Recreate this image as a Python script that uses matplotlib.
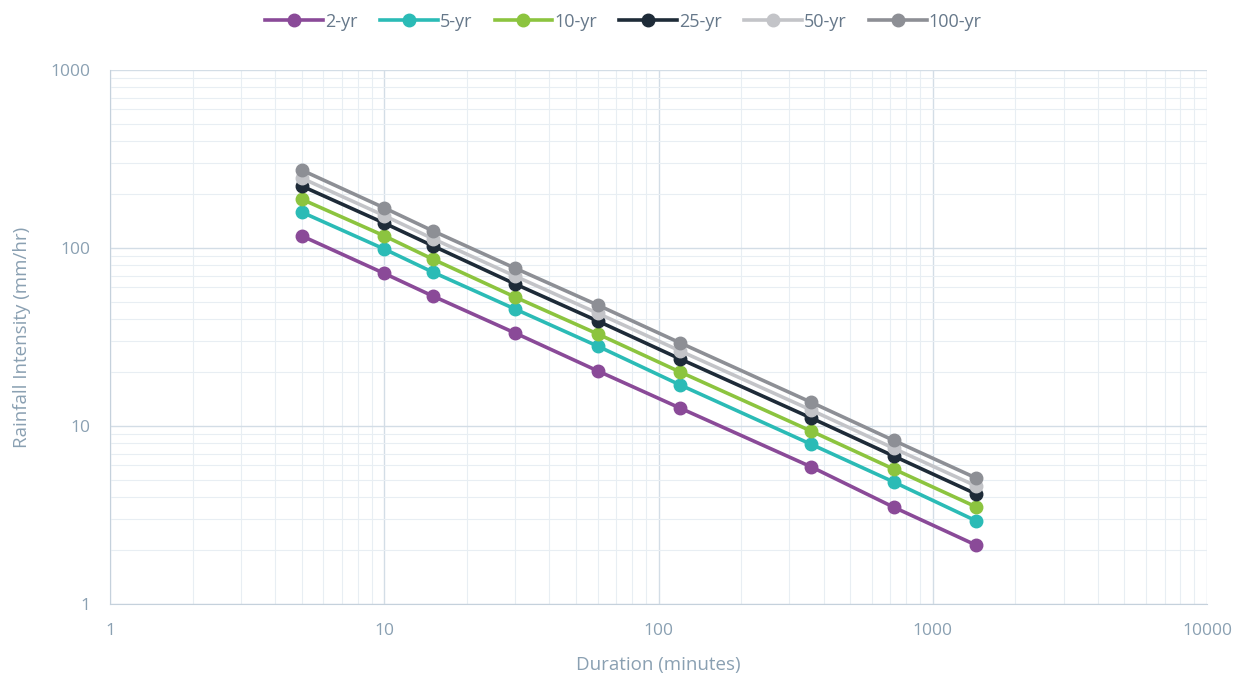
import matplotlib.pyplot as plt
import numpy as np
from matplotlib.ticker import LogLocator, NullFormatter

plt.rcParams['font.family'] = ['Open Sans', 'DejaVu Sans']

duration = [5, 10, 15, 30, 60, 120, 360, 720, 1440]
i_2yr = [117, 72, 53.8, 33.3, 20.4, 12.6, 5.9, 3.5, 2.14]
i_5yr = [159, 98.7, 73.3, 45.4, 28.1, 17.0, 7.9, 4.85, 2.93]
i_10yr = [188, 117, 86.7, 53, 32.9, 20.1, 9.37, 5.73, 3.51]
i_25yr = [223, 138, 103, 62.8, 38.9, 23.8, 11.1, 6.78, 4.15]
i_50yr = [247, 152, 113, 69.5, 43, 26.4, 12.3, 7.5, 4.6]
i_100yr = [274, 168, 125, 77, 47.8, 29.3, 13.6, 8.3, 5.1]

series = [('2-yr', i_2yr, '#8a4a98'),
          ('5-yr', i_5yr, '#2bbbb6'),
          ('10-yr', i_10yr, '#8cc43f'),
          ('25-yr', i_25yr, '#1e2b38'),
          ('50-yr', i_50yr, '#c3c4c8'),
          ('100-yr', i_100yr, '#8d8f95')]

txt = '#8aa0b2'

fig = plt.figure(figsize=(12.47, 6.94), dpi=100)
ax = fig.add_axes([110/1247, 1-604/694, 1097/1247, 534/694])

for name, vals, col in series:
    ax.plot(duration, vals, color=col, lw=2.6, marker='o', ms=9, label=name)

ax.set_xscale('log')
ax.set_yscale('log')
ax.set_xlim(1, 10000)
ax.set_ylim(1, 1000)
ax.set_xticks([1, 10, 100, 1000, 10000])
ax.set_xticklabels(['1', '10', '100', '1000', '10000'])
ax.set_yticks([1, 10, 100, 1000])
ax.set_yticklabels(['1', '10', '100', '1000'])
ax.xaxis.set_minor_locator(LogLocator(base=10, subs=np.arange(2, 10)))
ax.yaxis.set_minor_locator(LogLocator(base=10, subs=np.arange(2, 10)))
ax.xaxis.set_minor_formatter(NullFormatter())
ax.yaxis.set_minor_formatter(NullFormatter())

ax.grid(which='major', color='#d3dde6', lw=1.0)
ax.grid(which='minor', color='#e8eef3', lw=0.8)
ax.set_axisbelow(True)
ax.tick_params(which='both', length=0, colors=txt, labelsize=12.5)
ax.tick_params(axis='x', pad=14)
ax.tick_params(axis='y', pad=14)
for s in ['top', 'right']:
    ax.spines[s].set_visible(False)
for s in ['left', 'bottom']:
    ax.spines[s].set_color('#c5d1dc')

ax.set_xlabel('Duration (minutes)', color=txt, fontsize=13.5, labelpad=12)
ax.set_ylabel('Rainfall Intensity (mm/hr)', color=txt, fontsize=13.5, labelpad=14)

fig.legend(loc='upper center', bbox_to_anchor=(0.5, 1.005), ncol=6, frameon=False,
           fontsize=13, handlelength=3.2, handletextpad=0.1, columnspacing=1.25,
           labelcolor='#66788a')

fig.savefig('out.png', dpi=100)
